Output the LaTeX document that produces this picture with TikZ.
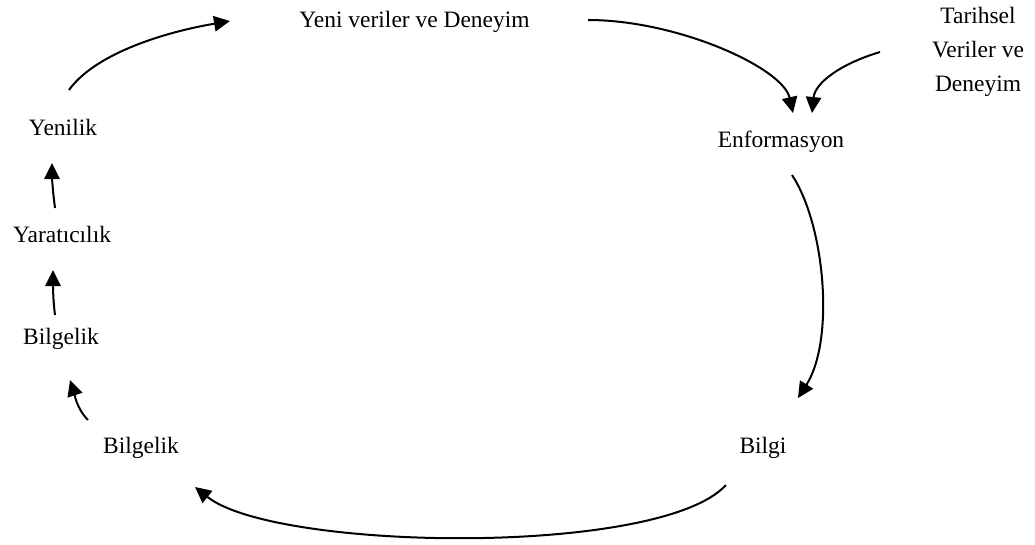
\documentclass[tikz,border=0pt]{standalone}
\usepackage{fontspec}
\setmainfont{Liberation Serif}
\usetikzlibrary{arrows.meta}
\begin{document}
\begin{tikzpicture}[x=0.75pt,y=-0.75pt,
  lbl/.style={inner sep=0pt,anchor=base,font=\fontsize{17.6}{25.5}\selectfont},
  arr/.style={line width=1.5pt,-{Triangle[length=12pt,width=11.5pt]}}]
\useasboundingbox (0,0) rectangle (1035,544);

% labels of the cycle
\node[lbl] (yv)  at (414.5,27) {Yeni veriler ve Deneyim};
\node[lbl,align=center,anchor=center] (tar) at (978,52) {Tarihsel\\Veriler ve\\Deneyim};
\node[lbl] (enf) at (781,147) {Enformasyon};
\node[lbl] (bgi) at (763,453) {Bilgi};
\node[lbl] (bl2) at (141,453) {Bilgelik};
\node[lbl] (bl1) at (61,344) {Bilgelik};
\node[lbl] (yar) at (62,242) {Yaratıcılık};
\node[lbl] (yen) at (63,135) {Yenilik};

% connectors
\draw[arr] ([shift={(6,-45)}]yen.base) .. controls +(25,-35) and +(-70,12) .. ([shift={(-184.5,-6)}]yv.base);
\draw[arr] ([shift={(173.5,-7)}]yv.base) .. controls +(90,0) and +(-10,-45) .. ([shift={(12,-34)}]enf.base);
\draw[arr] ([shift={(-98,0)}]tar.center) .. controls +(-40,12) and +(3,-30) .. ([shift={(31,-34)}]enf.base);
\draw[arr] ([shift={(11,28)}]enf.base) .. controls +(33,50) and +(37,-58) .. ([shift={(35,-55)}]bgi.base);
\draw[arr] ([shift={(-37,32)}]bgi.base) .. controls +(-66,72) and +(80,64) .. ([shift={(54,34)}]bl2.base);
\draw[arr] ([shift={(-53,-33)}]bl2.base) .. controls +(-12,-12) and +(4,12) .. ([shift={(9,36)}]bl1.base);
\draw[arr] ([shift={(-6,-29)}]bl1.base) .. controls +(-2,-15) and +(0,15) .. ([shift={(-9,28)}]yar.base);
\draw[arr] ([shift={(-7,-34)}]yar.base) .. controls +(-2,-15) and +(0,15) .. ([shift={(-11,28)}]yen.base);
\end{tikzpicture}
\end{document}
